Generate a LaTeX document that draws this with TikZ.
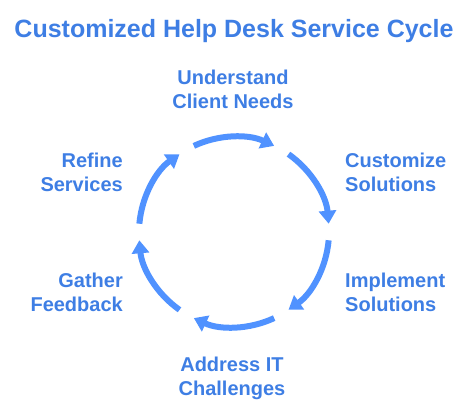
\documentclass[tikz,border=0pt]{standalone}
\usepackage{fontspec}
\setmainfont{Liberation Sans}
\usetikzlibrary{arrows.meta}

\definecolor{cycletext}{RGB}{62,126,228}
\definecolor{cyclearrow}{RGB}{80,146,255}

\def\cycrad{95}

\begin{document}
\begin{tikzpicture}[x=1pt,y=1pt]
				\tikzstyle{title}=[font=\bfseries\fontsize{25}{30}\selectfont,text=cycletext,inner sep=0pt]
				\tikzstyle{stage}=[font=\bfseries\fontsize{20}{24}\selectfont,text=cycletext,inner sep=0pt]
				\tikzstyle{cyc}=[draw=cyclearrow,line width=6pt,-{Triangle[length=13pt,width=17pt]}]

				\useasboundingbox (0,0) rectangle (474,-415);

				% Title
				\node[title,anchor=base] (head) at (234,-37) {Customized Help Desk Service Cycle};

				% Stages round the cycle
				\node[stage,align=center] (s1) at (233,-89.5) {Understand\\Client Needs};
				\node[stage,align=left,anchor=west] (s2) at (345,-172.5) {Customize\\Solutions};
				\node[stage,align=left,anchor=west] (s3) at (345,-292.5) {Implement\\Solutions};
				\node[stage,align=center] (s4) at (232,-378.5) {Address IT\\Challenges};
				\node[stage,align=right,anchor=east] (s5) at (123,-292.5) {Gather\\Feedback};
				\node[stage,align=right,anchor=east] (s6) at (123,-172.5) {Refine\\Services};

				% Centre of the cycle
				\coordinate (c) at (234,-232);

				% Arcs between the stages
				\draw[cyc] ([shift={(115:\cycrad)}]c) arc[start angle=115,end angle=65,radius=\cycrad];
				\draw[cyc] ([shift={(55:\cycrad)}]c) arc[start angle=55,end angle=5,radius=\cycrad];
				\draw[cyc] ([shift={(-5:\cycrad)}]c) arc[start angle=-5,end angle=-55,radius=\cycrad];
				\draw[cyc] ([shift={(-65:\cycrad)}]c) arc[start angle=-65,end angle=-115,radius=\cycrad];
				\draw[cyc] ([shift={(-125:\cycrad)}]c) arc[start angle=-125,end angle=-175,radius=\cycrad];
				\draw[cyc] ([shift={(-185:\cycrad)}]c) arc[start angle=-185,end angle=-235,radius=\cycrad];

\end{tikzpicture}
\end{document}
